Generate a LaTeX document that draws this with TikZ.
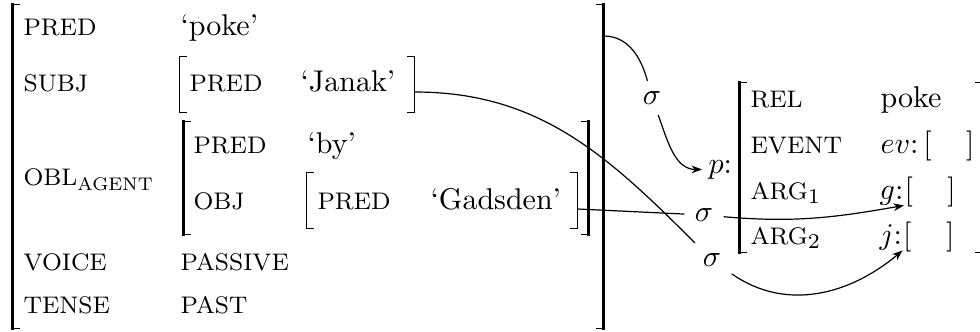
\documentclass[tikz,border=0pt]{standalone}
\usepackage{amsmath}
\usepackage{graphicx}
\usepackage{tikz}
\usetikzlibrary{arrows.meta,fit}
\newcommand{\attr}[1]{{\footnotesize #1}}
\newcommand{\fbrack}[2]{%
  \draw[line width=#2, line cap=rect] (#1.north west) -- (#1.south west) (#1.north east) -- (#1.south east);
  \draw[line width=0.4pt] (#1.north west) -- ++(8,0) (#1.south west) -- ++(8,0)
    (#1.north east) -- ++(-8,0) (#1.south east) -- ++(-8,0);}

\begin{document}
\begin{tikzpicture}[x=0.3333pt, y=0.3333pt,
  lbl/.style={anchor=base west, inner sep=0pt},
  avm/.style={inner sep=0pt},
  arr/.style={-{Stealth[length=3.5pt,width=2.6pt]}}]
\useasboundingbox (0,0) rectangle (980,331);
% f-structure
\node[avm, fit={(13,326) (603,3)}] (f) {};
\node[lbl] (fpred) at (23,295) {\attr{PRED}};
\node[lbl] (fpoke) at (180,295) {`poke'};
\node[lbl] (fsubj) at (23,239) {\attr{SUBJ}};
\node[avm, fit={(180,274) (414,219)}] (subj) {};
\node[lbl] (subjpred) at (189,239) {\attr{PRED}};
\node[lbl] (subjval) at (300,239) {`Janak'};
\node[lbl] (fobl) at (23,146) {\attr{OBL}\raisebox{-1.8pt}{\scalebox{0.87}{\scriptsize AGENT}}};
\node[avm, fit={(184,209) (588,97)}] (obl) {};
\node[lbl] (oblpred) at (193,178) {\attr{PRED}};
\node[lbl] (oblby) at (307,178) {`by'};
\node[lbl] (oblobj) at (193,122) {\attr{OBJ}};
\node[avm, fit={(307,158) (577,103)}] (obj) {};
\node[lbl] (objpred) at (317,122) {\attr{PRED}};
\node[lbl] (objval) at (430,122) {`Gadsden'};
\node[lbl] (fvoice) at (23,61) {\attr{VOICE}};
\node[lbl] (fpassive) at (180,61) {\attr{PASSIVE}};
\node[lbl] (ftense) at (23,18) {\attr{TENSE}};
\node[lbl] (fpast) at (180,18) {\attr{PAST}};
\fbrack{f}{0.8pt}
\fbrack{subj}{0.5pt}
\fbrack{obl}{0.8pt}
\fbrack{obj}{0.5pt}
% s-structure
\node[lbl, inner sep=2pt] (sp) at (702,158) {$p$:};
\node[avm, fit={(740,248) (982,79)}] (s) {};
\node[lbl] (srel) at (750,223) {\attr{REL}};
\node[lbl] (srelval) at (880,223) {poke};
\node[lbl] (sevent) at (750,178) {\attr{EVENT}};
\node[lbl] (seventval) at (880,178) {$ev$:};
\node[lbl, xshift=1.2pt] (seventbr) at (seventval.base east) {[\hspace{1.15em}]};
\node[lbl] (sarga) at (750,132) {\attr{ARG}$_1$};
\node[lbl] (sargaval) at (879,132) {$g$:};
\node[lbl] (sargabr) at (sargaval.base east) {[\hspace{1.15em}]};
\node[lbl] (sargb) at (750,87) {\attr{ARG}$_2$};
\node[lbl] (sargbval) at (879,87) {$j$:};
\node[lbl] (sargbbr) at (sargbval.base east) {[\hspace{1.15em}]};
\fbrack{s}{0.8pt}
% sigma projections
\node (sig1) at (652,233) {$\sigma$};
\node (sig2) at (704,116) {$\sigma$};
\node (sig3) at (712,71) {$\sigma$};
\draw (f.east |- fpred.base) to[out=0,in=105] (sig1);
\draw[arr] (sig1) to[out=-70,in=180] (sp);
\draw (obj.east |- objval.base) -- (sig2);
\draw[arr] (sig2) to[out=-5,in=190] (sargaval.south east);
\draw (subj.east |- subjval.base) to[out=0,in=135] (sig3);
\draw[arr] (sig3) to[out=-35,in=-140] (sargbval.south east);
\end{tikzpicture}
\end{document}
